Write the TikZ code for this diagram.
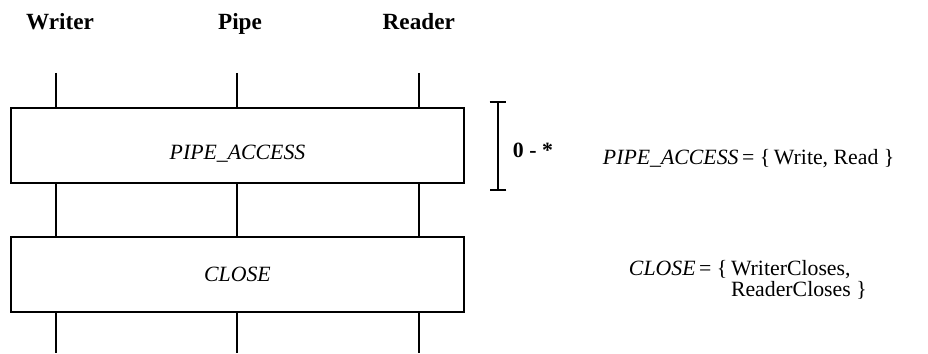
\documentclass[tikz,border=0pt]{standalone}
\usepackage{fontspec}
\setmainfont{Liberation Serif}
\usepackage{tikz}
\usetikzlibrary{arrows.meta}

\begin{document}
\begin{tikzpicture}[
    txt/.style={font=\fontsize{15.5}{16}\selectfont},
    role/.style={anchor=base,font=\fontsize{16.5}{17}\selectfont\bfseries},
    lifeline/.style={line width=1.9pt},
    phase/.style={draw,line width=1pt,minimum width=11.325cm,minimum height=1.875cm,inner sep=0pt,font=\fontsize{15.5}{16}\selectfont\itshape},
    repeat/.style={line width=1.1pt,{Bar[width=0.42cm]}-{Bar[width=0.42cm]}}]
   \useasboundingbox (0,0) rectangle (23.2,8.825);
   % roles
    \draw (1.5,8.08) node[role] (writer) {Writer};
    \draw (6.0,8.08) node[role] (pipe) {Pipe};
    \draw (10.47,8.08) node[role] (reader) {Reader};
   % phases
    \draw (5.9375,5.1875) node[phase,text height=0.82cm,text depth=0.1cm] (access) {PIPE\_ACCESS};
    \draw (5.9375,1.9625) node[phase] (close) {CLOSE};
    \coordinate (w0) at (1.4,7.0);
    \coordinate (p0) at (5.925,7.0);
    \coordinate (r0) at (10.475,7.0);
    \coordinate (w1) at (1.4,0);
    \coordinate (p1) at (5.925,0);
    \coordinate (r1) at (10.475,0);
    \foreach \l in {w,p,r} {
      \draw[lifeline] (\l0) -- (\l0 |- access.north);
      \draw[lifeline] (\l0 |- access.south) -- (\l0 |- close.north);
      \draw[lifeline] (\l1 |- close.south) -- (\l1);
    }
   % repetition
    \coordinate (rtop) at (12.45,6.3);
    \coordinate (rbot) at (12.45,4.05);
    \draw[repeat] (rtop) -- (rbot);
    \draw (12.7,5.07) node[txt,anchor=west] (count) {\textbf{0 - *}};
   % definitions
    \draw (14.95,4.85) node[txt,anchor=west] (accessdef) {\textit{PIPE\_ACCESS}\,= \{\,Write, Read \}};
    \draw (15.6,1.83) node[txt,anchor=west,align=left,font=\fontsize{15.5}{14.5}\selectfont] (closedef)
      {\textit{CLOSE}\,= \{\,WriterCloses,\\ \hphantom{\textit{CLOSE}\,= \{\,}ReaderCloses \}};
\end{tikzpicture}
\end{document}
